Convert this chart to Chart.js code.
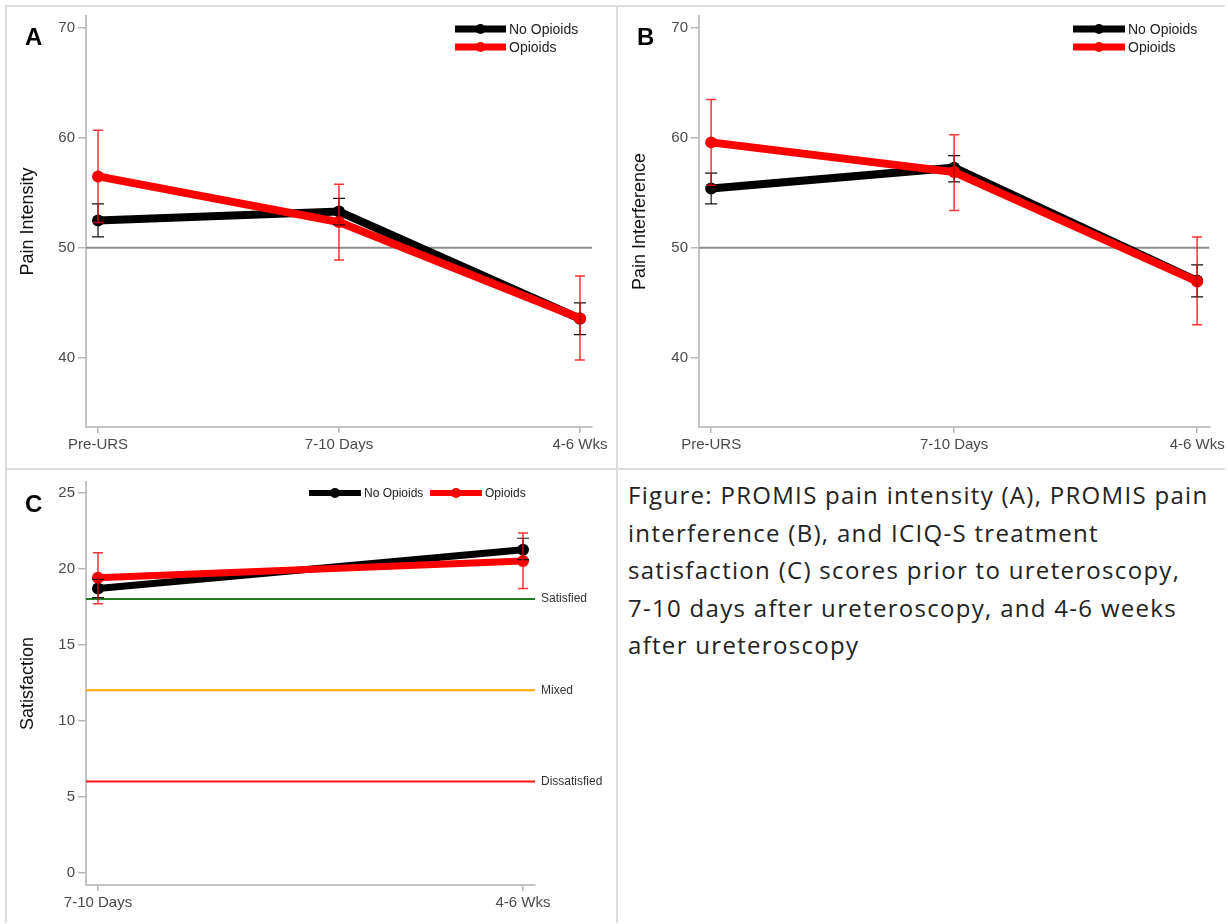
<!DOCTYPE html>
<html><head><meta charset="utf-8">
<script src="https://cdn.jsdelivr.net/npm/chart.js@4.4.1/dist/chart.umd.min.js"></script>
<style>
html,body{margin:0;padding:0;background:#fff;}
body{width:1228px;height:924px;position:relative;overflow:hidden;font-family:"Liberation Sans",Arial,sans-serif;}
canvas{position:absolute;}
.ln{position:absolute;background:#dcdcdc;z-index:2;}
#caption{position:absolute;left:628px;top:476px;width:600px;font-family:"Open Sans",sans-serif;font-size:24px;letter-spacing:1.3px;line-height:37.5px;color:#222;white-space:nowrap;}
</style></head><body>
<div class="ln" style="left:5px;top:5px;width:1220px;height:2px"></div>
<div class="ln" style="left:5px;top:5px;width:2px;height:918px"></div>
<div class="ln" style="left:616px;top:5px;width:2px;height:918px"></div>
<div class="ln" style="left:5px;top:468px;width:1220px;height:2px"></div>
<canvas id="cA" width="612" height="465" style="left:0;top:0"></canvas>
<canvas id="cB" width="611" height="465" style="left:617px;top:0"></canvas>
<canvas id="cC" width="612" height="455" style="left:0;top:469px"></canvas>
<div id="caption">Figure: PROMIS pain intensity (A), PROMIS pain<br>interference (B), and ICIQ-S treatment<br>satisfaction (C) scores prior to ureteroscopy,<br>7-10 days after ureteroscopy, and 4-6 weeks<br>after ureteroscopy</div>
<script>
// ---------- data ----------
const catsAB = ['Pre-URS', '7-10 Days', '4-6 Wks'];
const catsC = ['7-10 Days', '4-6 Wks'];
const groupNames = ['No Opioids', 'Opioids'];

const intNoMean = [52.5, 53.3, 43.55];
const intNoLow  = [51.0, 52.1, 42.1];
const intNoHigh = [54.0, 54.5, 45.0];
const intOpMean = [56.5, 52.35, 43.6];
const intOpLow  = [52.3, 48.9, 39.8];
const intOpHigh = [60.7, 55.8, 47.45];

const infNoMean = [55.4, 57.3, 47.0];
const infNoLow  = [54.0, 56.0, 45.55];
const infNoHigh = [56.8, 58.4, 48.45];
const infOpMean = [59.6, 56.9, 46.95];
const infOpLow  = [55.7, 53.4, 43.0];
const infOpHigh = [63.5, 60.3, 51.0];

const satNoMean = [18.7, 21.25];
const satNoLow  = [18.1, 20.6];
const satNoHigh = [19.3, 22.0];
const satOpMean = [19.4, 20.5];
const satOpLow  = [17.7, 18.7];
const satOpHigh = [21.05, 22.35];

const painTicks = [40, 50, 60, 70];
const satTicks = [0, 5, 10, 15, 20, 25];
const painRef = [50];
const satRefValues = [18, 12, 6];
const satRefLabels = ['Satisfied', 'Mixed', 'Dissatisfied'];

// ---------- styles ----------
const FONT = '"Liberation Sans", Arial, sans-serif';
Chart.defaults.font.family = FONT;
const COLORS = ['#000000', '#ff0000'];
const ERR_COLORS = ['#111111', 'rgba(255,0,0,0.8)'];
const painRefColors = ['#8c8c8c'];
const satRefColors = ['#1f7a1f', '#ffa500', '#ff1010'];

function panelPlugin(o) {
  return {
    id: 'panel' + o.letter,
    beforeDatasetsDraw(chart) {
      const {ctx, chartArea: a, scales: {y}} = chart;
      o.refs.forEach((r, k) => {
        const py = y.getPixelForValue(r);
        ctx.save();
        ctx.strokeStyle = o.refColors[k];
        ctx.lineWidth = o.refW;
        ctx.beginPath(); ctx.moveTo(a.left, py); ctx.lineTo(a.right, py); ctx.stroke();
        if (o.refLabels) {
          ctx.fillStyle = '#333';
          ctx.font = '12px ' + FONT;
          ctx.textBaseline = 'middle';
          ctx.textAlign = 'left';
          ctx.fillText(o.refLabels[k], a.right + 6, py);
        }
        ctx.restore();
      });
    },
    afterDatasetsDraw(chart) {
      const {ctx, scales: {x, y}} = chart;
      o.err.forEach((e, s) => {
        ctx.save();
        ctx.strokeStyle = ERR_COLORS[s];
        ctx.lineWidth = s === 0 ? 1.2 : 1.5;
        e.low.forEach((lo, i) => {
          const px = x.getPixelForValue(i);
          const pl = y.getPixelForValue(lo), ph = y.getPixelForValue(e.high[i]);
          const cw = s === 0 ? 6 : 5;
          ctx.beginPath();
          ctx.moveTo(px, pl); ctx.lineTo(px, ph);
          ctx.moveTo(px - cw, pl); ctx.lineTo(px + cw, pl);
          ctx.moveTo(px - cw, ph); ctx.lineTo(px + cw, ph);
          ctx.stroke();
        });
        ctx.restore();
      });
    },
    afterDraw(chart) {
      const ctx = chart.ctx;
      ctx.save();
      // legend
      o.legend.pos.forEach((p, k) => {
        ctx.strokeStyle = COLORS[k];
        ctx.fillStyle = COLORS[k];
        ctx.lineWidth = o.legend.lw;
        ctx.beginPath(); ctx.moveTo(p[0], p[1]); ctx.lineTo(p[0] + o.legend.len, p[1]); ctx.stroke();
        ctx.beginPath(); ctx.arc(p[0] + o.legend.len / 2, p[1], o.legend.r, 0, Math.PI * 2); ctx.fill();
        ctx.fillStyle = '#222';
        ctx.font = o.legend.font + 'px ' + FONT;
        ctx.textBaseline = 'middle';
        ctx.textAlign = 'left';
        ctx.fillText(groupNames[k], p[0] + o.legend.len + 3, p[1] + 1);
      });
      // panel letter
      ctx.fillStyle = '#000';
      ctx.font = 'bold 24px ' + FONT;
      ctx.textBaseline = 'alphabetic';
      ctx.textAlign = 'left';
      ctx.fillText(o.letter, o.letterPos[0], o.letterPos[1]);
      ctx.restore();
    }
  };
}

function makeChart(id, o) {
  const toPts = arr => arr.map((v, i) => ({x: i, y: v}));
  const tickFont = {size: 15, family: FONT};
  new Chart(document.getElementById(id), {
    type: 'line',
    data: {
      datasets: [
        {label: groupNames[0], data: toPts(o.noMean), borderColor: COLORS[0], backgroundColor: COLORS[0],
         borderWidth: o.lw, pointRadius: o.pr, pointBorderWidth: 0, pointBackgroundColor: COLORS[0], order: 1, tension: 0},
        {label: groupNames[1], data: toPts(o.opMean), borderColor: COLORS[1], backgroundColor: COLORS[1],
         borderWidth: o.lw, pointRadius: o.pr, pointBorderWidth: 0, pointBackgroundColor: COLORS[1], order: 0, tension: 0}
      ]
    },
    options: {
      responsive: false, animation: false, events: [],
      layout: {padding: {top: o.padTop, right: o.padRight, left: 0, bottom: 0}},
      plugins: {legend: {display: false}, tooltip: {enabled: false}},
      scales: {
        x: {
          type: 'linear', min: -o.xOff, max: o.cats.length - 1 + o.xOff,
          afterBuildTicks: s => { s.ticks = o.cats.map((c, i) => ({value: i})); },
          afterFit: s => { s.height = o.xH; },
          ticks: {callback: v => o.cats[Math.round(v)], font: tickFont, color: '#4a4a4a', padding: 3, maxRotation: 0, autoSkip: false},
          grid: {drawOnChartArea: false, drawTicks: true, tickLength: 6, color: '#b8b8b8', lineWidth: 1.5},
          border: {display: true, color: '#c4c4c4', width: 2}
        },
        y: {
          type: 'linear', min: o.yMin, max: o.yMax,
          afterBuildTicks: s => { s.ticks = o.yTicks.map(v => ({value: v})); },
          afterFit: s => { s.width = o.yW; },
          ticks: {font: tickFont, color: '#4a4a4a', padding: 3},
          grid: {drawOnChartArea: false, drawTicks: true, tickLength: 8, color: '#b8b8b8', lineWidth: 1.5},
          border: {display: true, color: '#c4c4c4', width: 2},
          title: {display: true, text: o.yTitle, color: '#111', font: {size: 18, family: FONT}, padding: {top: o.titlePad, bottom: 0}}
        }
      }
    },
    plugins: [panelPlugin(o)]
  });
}

makeChart('cA', {
  letter: 'A', letterPos: [25, 45], cats: catsAB,
  noMean: intNoMean, opMean: intOpMean,
  err: [{low: intNoLow, high: intNoHigh}, {low: intOpLow, high: intOpHigh}],
  yMin: 33.7, yMax: 71.1, yTicks: painTicks, yTitle: 'Pain Intensity', titlePad: 17,
  xOff: 0.05, yW: 86, xH: 38, padTop: 16, padRight: 20, lw: 8, pr: 6,
  refs: painRef, refColors: painRefColors, refW: 2,
  legend: {pos: [[455, 29], [455, 47]], len: 51, lw: 7, r: 5, font: 14}
});
makeChart('cB', {
  letter: 'B', letterPos: [20, 45], cats: catsAB,
  noMean: infNoMean, opMean: infOpMean,
  err: [{low: infNoLow, high: infNoHigh}, {low: infOpLow, high: infOpHigh}],
  yMin: 33.7, yMax: 71.1, yTicks: painTicks, yTitle: 'Pain Interference', titlePad: 12,
  xOff: 0.05, yW: 82, xH: 38, padTop: 16, padRight: 15, lw: 8, pr: 6,
  refs: painRef, refColors: painRefColors, refW: 2,
  legend: {pos: [[456, 29], [456, 47]], len: 52, lw: 7, r: 5, font: 14}
});
makeChart('cC', {
  letter: 'C', letterPos: [25, 43], cats: catsC,
  noMean: satNoMean, opMean: satOpMean,
  err: [{low: satNoLow, high: satNoHigh}, {low: satOpLow, high: satOpHigh}],
  yMin: -0.8, yMax: 25.7, yTicks: satTicks, yTitle: 'Satisfaction', titlePad: 17,
  xOff: 0.0282, yW: 86, xH: 39, padTop: 13, padRight: 77, lw: 7, pr: 6,
  refs: satRefValues, refColors: satRefColors, refW: 2, refLabels: satRefLabels,
  legend: {pos: [[309, 24], [430, 24]], len: 52, lw: 6, r: 5, font: 12}
});
</script>
</body></html>
